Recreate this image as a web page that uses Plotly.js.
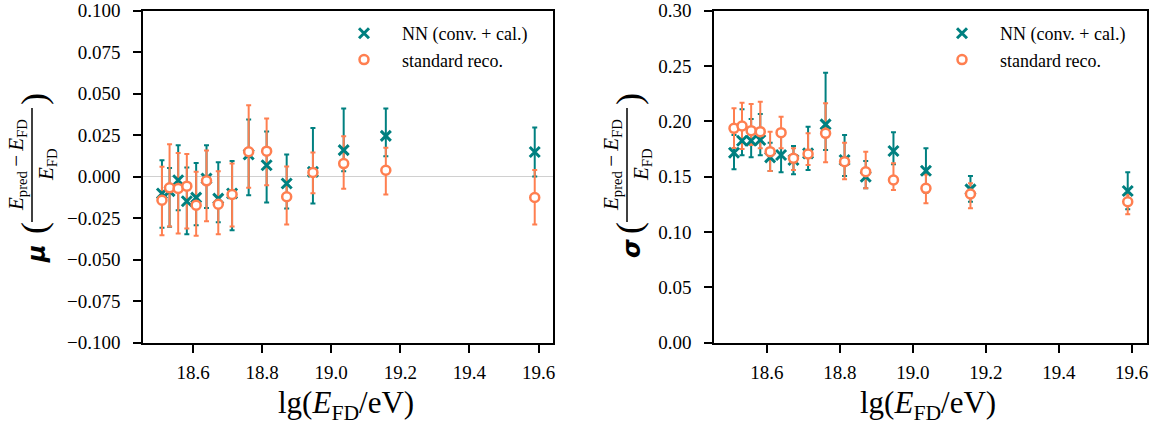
<!DOCTYPE html>
<html>
<head>
<meta charset="utf-8">
<script src="https://cdn.plot.ly/plotly-3.0.1.min.js"></script>
<style>html,body{margin:0;padding:0;background:#fff}#chart{width:1160px;height:426px}</style>
</head>
<body>
<div id="chart"></div>
<script>
// ---- data ----
const lgE = [18.510, 18.532, 18.557, 18.582, 18.609, 18.639, 18.673, 18.713, 18.761, 18.813, 18.871, 18.947, 19.036, 19.158, 19.589];

// mean relative deviation, NN (conv. + cal.)
const nnMu      = [-0.0101, -0.0087, -0.0021, -0.0148, -0.0126, -0.0011, -0.0132, -0.0101, 0.0134, 0.0069, -0.0041, 0.0029, 0.0160, 0.0246, 0.0149];
const nnMuErrUp = [0.0200, 0.0140, 0.0211, 0.0203, 0.0209, 0.0201, 0.0219, 0.0196, 0.0210, 0.0203, 0.0175, 0.0265, 0.0251, 0.0165, 0.0147];
const nnMuErrDn = [0.0207, 0.0215, 0.0181, 0.0198, 0.0166, 0.0177, 0.0142, 0.0222, 0.0245, 0.0225, 0.0151, 0.0191, 0.0127, 0.0123, 0.0148];

// mean relative deviation, standard reco.
const stMu      = [-0.0142, -0.0067, -0.0071, -0.0057, -0.0172, -0.0025, -0.0166, -0.0107, 0.0150, 0.0154, -0.0121, 0.0025, 0.0079, 0.0039, -0.0125];
const stMuErrUp = [0.0202, 0.0263, 0.0214, 0.0193, 0.0202, 0.0183, 0.0199, 0.0187, 0.0281, 0.0196, 0.0182, 0.0121, 0.0165, 0.0135, 0.0166];
const stMuErrDn = [0.0210, 0.0233, 0.0271, 0.0255, 0.0184, 0.0243, 0.0180, 0.0193, 0.0217, 0.0205, 0.0167, 0.0125, 0.0152, 0.0146, 0.0163];

// resolution, NN (conv. + cal.)
const nnSig      = [0.1717, 0.1825, 0.1825, 0.1832, 0.1675, 0.1696, 0.1651, 0.1711, 0.1973, 0.1651, 0.1500, 0.1732, 0.1554, 0.1386, 0.1371];
const nnSigErrUp = [0.0160, 0.0284, 0.0196, 0.0235, 0.0132, 0.0172, 0.0126, 0.0241, 0.0467, 0.0226, 0.0142, 0.0169, 0.0203, 0.0120, 0.0169];
const nnSigErrDn = [0.0150, 0.0132, 0.0150, 0.0139, 0.0124, 0.0156, 0.0129, 0.0151, 0.0232, 0.0145, 0.0105, 0.0120, 0.0199, 0.0112, 0.0166];

// resolution, standard reco.
const stSig      = [0.1937, 0.1958, 0.1916, 0.1907, 0.1726, 0.1898, 0.1666, 0.1705, 0.1892, 0.1636, 0.1545, 0.1470, 0.1395, 0.1344, 0.1274];
const stSigErrUp = [0.0181, 0.0211, 0.0241, 0.0271, 0.0181, 0.0144, 0.0091, 0.0187, 0.0271, 0.0171, 0.0181, 0.0151, 0.0125, 0.0096, 0.0066];
const stSigErrDn = [0.0177, 0.0208, 0.0130, 0.0151, 0.0175, 0.0142, 0.0106, 0.0099, 0.0262, 0.0160, 0.0150, 0.0090, 0.0135, 0.0130, 0.0114];

const seriesNames = ['NN (conv. + cal.)', 'standard reco.'];
const xTickVals = [18.6, 18.8, 19.0, 19.2, 19.4, 19.6];

// ---- style ----
const TEAL = '#008080';
const CORAL = '#FF7F50';
const SERIF = '"Liberation Serif", "Times New Roman", serif';
const W = 1160, H = 426;
const px = v => v / W;
const py = v => 1 - v / H;
const LEG_PAD = '\u2002\u2002';

function errTrace(x, y, up, dn, color, xa, ya) {
  return {
    x: x, y: y, type: 'scatter', mode: 'markers', xaxis: xa, yaxis: ya,
    marker: {size: 1, opacity: 0, color: color},
    error_y: {type: 'data', symmetric: false, array: up, arrayminus: dn,
              color: color, thickness: 2, width: 2.5},
    showlegend: false, hoverinfo: 'skip'
  };
}
function nnMarkers(x, y, xa, ya, leg) {
  return {x: x, y: y, type: 'scatter', mode: 'markers', xaxis: xa, yaxis: ya,
    name: LEG_PAD + seriesNames[0], legend: leg, showlegend: true, legendgroup: leg + 'a',
    marker: {symbol: 'x-thin', size: 10, color: TEAL, line: {width: 3, color: TEAL}}};
}
function stMarkers(x, y, xa, ya, leg) {
  return {x: x, y: y, type: 'scatter', mode: 'markers', xaxis: xa, yaxis: ya,
    name: LEG_PAD + seriesNames[1], legend: leg, showlegend: true, legendgroup: leg + 'b',
    marker: {symbol: 'circle', size: 9, color: '#ffffff', line: {width: 2.5, color: CORAL}}};
}

const traces = [
  errTrace(lgE, nnMu, nnMuErrUp, nnMuErrDn, TEAL, 'x', 'y'),
  errTrace(lgE, stMu, stMuErrUp, stMuErrDn, CORAL, 'x', 'y'),
  nnMarkers(lgE, nnMu, 'x', 'y', 'legend'),
  stMarkers(lgE, stMu, 'x', 'y', 'legend'),
  errTrace(lgE, nnSig, nnSigErrUp, nnSigErrDn, TEAL, 'x2', 'y2'),
  errTrace(lgE, stSig, stSigErrUp, stSigErrDn, CORAL, 'x2', 'y2'),
  nnMarkers(lgE, nnSig, 'x2', 'y2', 'legend2'),
  stMarkers(lgE, stSig, 'x2', 'y2', 'legend2')
];

const axisCommon = {
  showline: true, linecolor: '#000', linewidth: 2, mirror: true,
  ticks: 'outside', ticklen: 8, tickwidth: 2, tickcolor: '#000',
  showgrid: false, tickfont: {family: SERIF, size: 19, color: '#000'}
};
const xCommon = Object.assign({}, axisCommon, {
  range: [18.456, 19.641], tickmode: 'array', tickvals: xTickVals,
  ticktext: xTickVals.map(v => v.toFixed(1)), zeroline: false, ticklabelstandoff: 3
});
const yTop = py(10.7), yBot = py(342.7);

const titleFont = {family: SERIF, size: 31, color: '#000'};
const fracFont = {family: SERIF, size: 21, color: '#000'};
const greekFont = {family: '"DejaVu Sans", sans-serif', size: 24, color: '#000', weight: 'bold'};
const parenFont = {family: SERIF, size: 36, color: '#000'};

function yTitle(xBar, yc, sym, symOff) {
  const a = [];
  const base = {xref: 'paper', yref: 'paper', showarrow: false, textangle: -90,
                xanchor: 'center', yanchor: 'middle'};
  a.push(Object.assign({}, base, {x: px(xBar + 5), y: py(yc + symOff), text: sym, font: greekFont}));
  a.push(Object.assign({}, base, {x: px(xBar + 2), y: py(yc + 63), text: '(', font: parenFont}));
  a.push(Object.assign({}, base, {x: px(xBar - 15), y: py(yc), text: '<i>E</i><sub>pred</sub>\u2009\u2212\u2009<i>E</i><sub>FD</sub>', font: fracFont}));
  a.push(Object.assign({}, base, {x: px(xBar + 15), y: py(yc), text: '<i>E</i><sub>FD</sub>', font: fracFont}));
  a.push(Object.assign({}, base, {x: px(xBar + 2), y: py(yc - 66), text: ')', font: parenFont}));
  return a;
}

const annotations = [].concat(
  yTitle(32, 165, '<i>μ</i>', 89),
  yTitle(627, 165, '<i>σ</i>', 84),
  [
    {xref: 'paper', yref: 'paper', x: px(346), y: py(405), xanchor: 'center', yanchor: 'middle',
     showarrow: false, text: 'lg(<i>E</i><sub>FD</sub>/eV)', font: titleFont},
    {xref: 'paper', yref: 'paper', x: px(928), y: py(405), xanchor: 'center', yanchor: 'middle',
     showarrow: false, text: 'lg(<i>E</i><sub>FD</sub>/eV)', font: titleFont}
  ]
);

const shapes = [
  {type: 'line', xref: 'paper', yref: 'paper', x0: px(32), x1: px(32), y0: py(108), y1: py(222),
   line: {color: '#000', width: 1.5}},
  {type: 'line', xref: 'paper', yref: 'paper', x0: px(627), x1: px(627), y0: py(108), y1: py(222),
   line: {color: '#000', width: 1.5}}
];

const legendCommon = {
  font: {family: SERIF, size: 18, color: '#000'}, bgcolor: 'rgba(255,255,255,0)',
  borderwidth: 0, xanchor: 'left', yanchor: 'top', itemwidth: 30, tracegroupgap: 0
};

const layout = {
  width: W, height: H,
  margin: {l: 0, r: 0, t: 0, b: 0},
  paper_bgcolor: '#fff', plot_bgcolor: '#fff',
  font: {family: SERIF, color: '#000'},
  showlegend: true,
  xaxis: Object.assign({}, xCommon, {domain: [px(143.3), px(552.7)], anchor: 'y'}),
  yaxis: Object.assign({}, axisCommon, {domain: [yBot, yTop], anchor: 'x',
    range: [-0.1, 0.1], dtick: 0.025, tick0: 0, tickformat: '.3f', ticklabelstandoff: 9,
    zeroline: true, zerolinecolor: '#d0d0d0', zerolinewidth: 1}),
  xaxis2: Object.assign({}, xCommon, {domain: [px(714.3), px(1146.7)], anchor: 'y2'}),
  yaxis2: Object.assign({}, axisCommon, {domain: [yBot, yTop], anchor: 'x2',
    range: [0, 0.3], dtick: 0.05, tick0: 0, tickformat: '.2f', ticklabelstandoff: 9, zeroline: false}),
  legend: Object.assign({}, legendCommon, {x: px(344), y: py(15)}),
  legend2: Object.assign({}, legendCommon, {x: px(942), y: py(15)}),
  annotations: annotations,
  shapes: shapes
};

Plotly.newPlot('chart', traces, layout, {staticPlot: true, displayModeBar: false});
</script>
</body>
</html>
